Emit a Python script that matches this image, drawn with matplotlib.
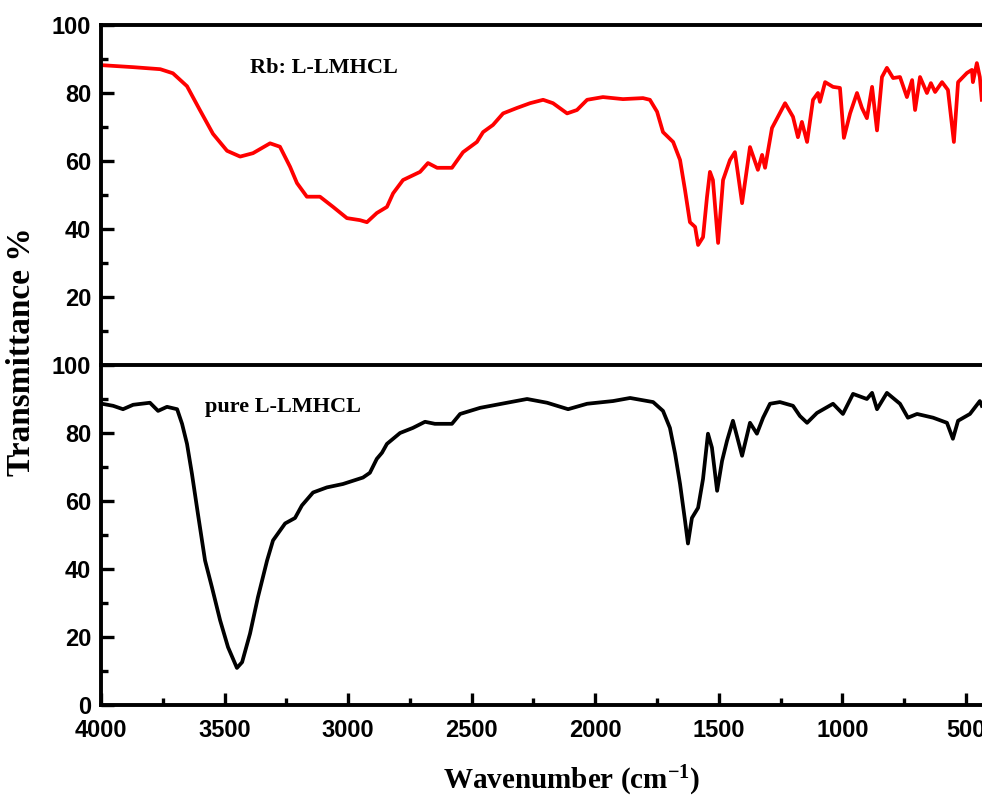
import numpy as np
import matplotlib
matplotlib.use('Agg')
import matplotlib.pyplot as plt
from matplotlib.ticker import MultipleLocator, FixedLocator

# ---------------------------------------------------------------------------
# Data (wavenumber cm-1, transmittance %)
# ---------------------------------------------------------------------------

wn_rb = [4000, 3870, 3760, 3709, 3652, 3600, 3547, 3490, 3437, 3385, 3316, 3276,
         3235, 3207, 3167, 3114, 3061, 3005, 2952, 2924, 2884, 2843, 2818, 2778,
         2709, 2677, 2640, 2580, 2535, 2479, 2454, 2414, 2373, 2317, 2264, 2211,
         2171, 2114, 2074, 2033, 1969, 1888, 1807, 1779, 1750, 1726, 1685, 1657,
         1637, 1617, 1596, 1584, 1564, 1548, 1536, 1524, 1503, 1483, 1455, 1435,
         1406, 1374, 1342, 1325, 1313, 1285, 1261, 1232, 1200, 1180, 1164, 1143,
         1119, 1099, 1091, 1070, 1038, 1010, 994, 969, 941, 921, 901, 880, 860,
         840, 820, 795, 767, 739, 718, 706, 686, 658, 642, 625, 597, 573, 549,
         532, 496, 476, 472, 456, 444, 436]
t_rb = [88.2, 87.6, 87.0, 85.8, 82.0, 75.0, 68.0, 63.0, 61.3, 62.3, 65.2, 64.2,
        58.3, 53.5, 49.5, 49.5, 46.5, 43.2, 42.6, 42.0, 44.7, 46.5, 50.5, 54.4,
        56.8, 59.4, 58.0, 58.0, 62.6, 65.6, 68.5, 70.6, 74.0, 75.6, 77.0, 78.0,
        77.0, 74.0, 75.0, 78.0, 78.8, 78.2, 78.5, 78.0, 74.5, 68.5, 65.6, 60.3,
        51.5, 42.0, 40.6, 35.3, 37.6, 49.4, 56.8, 54.4, 35.9, 54.4, 60.3, 62.6,
        47.6, 64.1, 57.4, 61.8, 58.0, 69.7, 73.0, 77.0, 73.0, 67.0, 71.5, 65.6,
        78.0, 80.0, 77.4, 83.2, 81.8, 81.5, 66.8, 74.0, 80.0, 75.6, 72.6, 81.8, 69.0,
        84.7, 87.4, 84.4, 84.7, 78.8, 83.8, 75.0, 84.7, 80.0, 82.9, 80.3, 83.2, 80.9, 65.6,
        83.2, 85.9, 86.8, 83.2, 88.8, 84.7, 78.0]

wn_pure = [3996, 3951, 3911, 3870, 3802, 3769, 3733, 3692, 3672, 3652, 3632, 3608,
           3579, 3551, 3518, 3486, 3450, 3429, 3397, 3365, 3328, 3304, 3255, 3215,
           3187, 3142, 3086, 3021, 2940, 2912, 2884, 2863, 2843, 2790, 2738, 2689,
           2649, 2580, 2547, 2466, 2357, 2276, 2195, 2110, 2033, 1928, 1859, 1766,
           1726, 1698, 1677, 1657, 1637, 1625, 1609, 1584, 1564, 1544, 1528, 1507,
           1487, 1467, 1443, 1406, 1374, 1346, 1321, 1293, 1253, 1200, 1172, 1143,
           1103, 1038, 998, 957, 901, 880, 860, 820, 767, 735, 698, 633, 577, 553,
           532, 484, 444, 436]
t_pure = [88.6, 88.0, 87.0, 88.3, 88.9, 86.5, 87.7, 87.0, 82.7, 76.8, 68.0, 56.3,
          42.5, 34.6, 24.9, 17.0, 10.9, 12.6, 21.0, 31.7, 42.5, 48.4, 53.4, 55.0,
          58.7, 62.5, 64.0, 65.0, 66.9, 68.3, 72.4, 74.2, 76.8, 80.0, 81.5, 83.3,
          82.7, 82.7, 85.6, 87.4, 88.9, 90.0, 88.9, 87.0, 88.6, 89.4, 90.3, 89.1,
          86.5, 81.5, 73.9, 65.0, 54.3, 47.5, 55.0, 58.0, 66.5, 79.8, 75.7, 63.0,
          71.8, 77.7, 83.6, 73.3, 83.0, 79.8, 84.5, 88.6, 89.1, 88.0, 85.0, 83.0,
          85.9, 88.6, 85.6, 91.5, 90.0, 91.8, 87.0, 91.8, 88.6, 84.5, 85.6, 84.5, 83.0, 78.3,
          83.6, 85.6, 89.4, 88.0]

label_rb = 'Rb: L-LMHCL'
label_pure = 'pure L-LMHCL'
x_ticks = [4000, 3500, 3000, 2500, 2000, 1500, 1000, 500]
y_ticks_top = [20, 40, 60, 80, 100]
y_ticks_bot = [0, 20, 40, 60, 80, 100]

# ---------------------------------------------------------------------------
# Figure
# ---------------------------------------------------------------------------

plt.rcParams['mathtext.fontset'] = 'custom'
plt.rcParams['mathtext.rm'] = 'Liberation Serif:bold'
plt.rcParams['mathtext.bf'] = 'Liberation Serif:bold'
plt.rcParams['mathtext.default'] = 'bf'

W, H = 982, 799
fig = plt.figure(figsize=(W / 100, H / 100), dpi=100)

x_left, x_right = 101, 1002            # axes run a little past the image edge
xmax, xmin = 4000, 4000 - (x_right - x_left) * 4.0463

ax_top = fig.add_axes([x_left / W, (H - 365) / H, (x_right - x_left) / W, 340 / H])
ax_bot = fig.add_axes([x_left / W, (H - 705) / H, (x_right - x_left) / W, 340 / H],
                      sharex=ax_top)

ax_top.plot(wn_rb, t_rb, color='#ff0000', lw=2.7, solid_joinstyle='round')
ax_bot.plot(wn_pure, t_pure, color='black', lw=2.7, solid_joinstyle='round')

tick_font = dict(family='Liberation Sans', weight='bold', size=17)

for ax in (ax_top, ax_bot):
    ax.set_xlim(xmax, xmin)
    ax.set_ylim(0, 100)
    for side in ('top', 'bottom', 'left', 'right'):
        ax.spines[side].set_linewidth(2.8)
    ax.yaxis.set_minor_locator(MultipleLocator(10))
    ax.xaxis.set_major_locator(FixedLocator(x_ticks))
    ax.xaxis.set_minor_locator(MultipleLocator(250))
    ax.tick_params(which='major', direction='in', length=9, width=2.4,
                   top=False, right=False, pad=7)
    ax.tick_params(which='minor', direction='in', length=5, width=2.4,
                   top=False, right=False)

ax_top.set_yticks(y_ticks_top)
ax_top.spines['bottom'].set_visible(False)
ax_top.tick_params(axis='x', which='both', bottom=False, labelbottom=False)
ax_bot.set_yticks(y_ticks_bot)
ax_bot.tick_params(axis='x', which='major', pad=10)

for ax in (ax_top, ax_bot):
    for lbl in ax.get_xticklabels() + ax.get_yticklabels():
        lbl.set_fontfamily(tick_font['family'])
        lbl.set_fontweight(tick_font['weight'])
        lbl.set_fontsize(tick_font['size'])

serif_bold = dict(family='Liberation Serif', weight='bold')
ax_top.text(3397, 87.4, label_rb, fontsize=16, va='center', ha='left', **serif_bold)
ax_bot.text(3579, 87.7, label_pure, fontsize=16, va='center', ha='left', **serif_bold)

fig.text(22 / W, (H - 352) / H, 'Transmittance %', rotation=90, fontsize=24,
         ha='center', va='center', **serif_bold)
fig.text(572 / W, (H - 781) / H, 'Wavenumber (cm$^{-1}$)', fontsize=21,
         ha='center', va='center', **serif_bold)

fig.savefig('out.png', dpi=100)
